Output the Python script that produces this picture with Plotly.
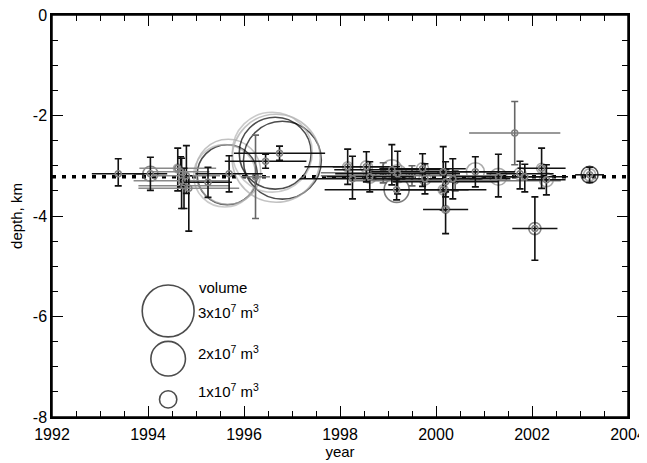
import plotly.graph_objects as go

# ---------------- data ----------------
mean_depth = -3.22

x_tickvals = [1992, 1994, 1996, 1998, 2000, 2002, 2004]
x_ticktext = ["1992", "1994", "1996", "1998", "2000", "2002", "2004"]
y_tickvals = [0, -2, -4, -6, -8]
y_ticktext = ["0", "-2", "-4", "-6", "-8"]

# events with black error bars
a_year = [1993.38, 1994.05, 1995.25, 1995.69, 1996.74, 1996.45, 1998.16, 1998.26, 1998.55, 1998.62,
          1999.08, 1999.20, 1999.18, 1999.72, 1999.77, 2000.15, 2000.20, 2000.15, 2000.20, 2000.35,
          2000.82, 2001.30, 2001.75, 2001.85, 2002.06, 2002.20, 2002.30, 2003.20]
a_depth = [-3.16, -3.16, -3.33, -3.16, -2.75, -2.91, -3.02, -3.26, -3.02, -3.22,
           -3.08, -3.16, -3.48, -3.06, -3.26, -3.12, -3.32, -3.48, -3.87, -3.26,
           -3.12, -3.22, -3.16, -3.22, -4.25, -3.05, -3.28, -3.18]
a_xerr = [0.55, 0.35, 0.5, 0.7, 0.95, 0.85, 0.9, 1.1, 0.7, 0.9,
          1.2, 1.3, 1.5, 0.9, 1.2, 1.5, 1.1, 0.9, 0.47, 1.2,
          0.8, 1.0, 0.7, 0.9, 0.47, 0.5, 0.4, 0.3]
a_up = [0.30, 0.33, 0.30, 0.36, 0.14, 0.14, 0.35, 0.45, 0.30, 0.30,
        0.50, 0.45, 0.20, 0.30, 0.30, 0.50, 0.40, 0.30, 0.35, 0.40,
        0.30, 0.45, 0.25, 0.25, 0.63, 0.40, 0.30, 0.15]
a_dn = [0.24, 0.33, 0.30, 0.36, 0.14, 0.14, 0.35, 0.40, 0.30, 0.30,
        0.30, 0.40, 0.20, 0.35, 0.30, 0.40, 0.30, 0.40, 0.48, 0.40,
        0.30, 0.40, 0.30, 0.30, 0.63, 0.40, 0.30, 0.15]

# events with grey horizontal and black vertical error bars
b_year = [1994.62, 1994.70, 1994.75, 1994.80, 1994.85, 1994.68]
b_depth = [-3.05, -3.30, -3.40, -3.20, -3.45, -3.12]
b_xerr = [0.8, 1.0, 0.95, 0.7, 1.05, 0.6]
b_up = [0.40, 0.45, 0.35, 0.60, 0.25, 0.30]
b_dn = [0.45, 0.55, 0.45, 0.35, 0.85, 0.30]

# events with grey error bars
c_year = [1996.24, 2001.64, 1999.50, 2000.40, 1998.90]
c_depth = [-3.22, -2.35, -3.20, -3.30, -3.14]
c_xerr = [0.3, 0.95, 1.9, 2.2, 1.3]
c_up = [0.83, 0.63, 0.20, 0.20, 0.20]
c_dn = [0.83, 0.63, 0.20, 0.20, 0.20]

# volume circles (volume in 1e7 m^3)
circ_year = [1995.65, 1995.67, 1995.60, 1996.65, 1996.80, 1996.67, 1996.59, 1994.05, 1999.18, 1999.08,
             1999.20, 2000.82, 2001.30, 2003.20, 2003.20, 2002.06, 2002.30, 1998.62, 1998.16, 1998.55,
             1999.72, 1999.77, 2000.15, 2001.75, 2002.20, 2000.20, 1994.62, 1994.78]
circ_depth = [-3.18, -3.12, -3.20, -2.75, -2.89, -2.85, -2.73, -3.16, -3.48, -3.08,
              -3.16, -3.12, -3.22, -3.18, -3.18, -4.25, -3.28, -3.22, -3.02, -3.02,
              -3.06, -3.26, -3.48, -3.16, -3.05, -3.87, -3.05, -3.30]
circ_vol = [3.47, 3.76, 3.60, 4.16, 4.50, 5.09, 4.62, 0.87, 1.45, 1.16,
            1.04, 1.04, 0.98, 0.98, 0.70, 0.70, 0.80, 0.75, 0.58, 0.70,
            0.70, 0.70, 0.58, 0.70, 0.58, 0.46, 0.50, 0.50]
circ_color = ["#000000", "#a8a8a8", "#b4b4b4", "#000000", "#000000", "#a8a8a8", "#b4b4b4", "#555555", "#444444", "#888888",
              "#888888", "#888888", "#888888", "#000000", "#888888", "#555555", "#888888", "#888888", "#888888", "#888888",
              "#888888", "#888888", "#888888", "#888888", "#888888", "#777777", "#888888", "#888888"]

legend_vol = [3, 2, 1]
legend_labels = ["3x10<sup>7</sup> m<sup>3</sup>", "2x10<sup>7</sup> m<sup>3</sup>", "1x10<sup>7</sup> m<sup>3</sup>"]

PX_PER_VOL = 17.3  # marker diameter (px) per 1e7 m^3
FONT = "Liberation Sans, Arial, sans-serif"

fig = go.Figure()

# mean depth dotted line
fig.add_trace(go.Scatter(x=[1992, 2004], y=[mean_depth, mean_depth], mode="lines",
                         line=dict(color="black", width=3.5, dash="4px,6px"), hoverinfo="skip"))

# volume circles
fig.add_trace(go.Scatter(x=circ_year, y=circ_depth, mode="markers",
                         marker=dict(symbol="circle-open", size=[v * PX_PER_VOL for v in circ_vol],
                                     color=circ_color, line=dict(width=1.6))))

def add_err(xs, ys, xe, up, dn, cx, cy):
    fig.add_trace(go.Scatter(
        x=xs, y=ys, mode="markers",
        marker=dict(symbol="circle-open", size=6, color="#808080", line=dict(width=1.5)),
        error_x=dict(type="data", array=xe, symmetric=True, color=cx, thickness=1.5, width=0),
        error_y=dict(type="data", array=up, arrayminus=dn, symmetric=False, color=cy, thickness=1.6, width=3.5),
    ))

add_err(c_year, c_depth, c_xerr, c_up, c_dn, "#777777", "#666666")
add_err(b_year, b_depth, b_xerr, b_up, b_dn, "#8a8a8a", "#111111")
add_err(a_year, a_depth, a_xerr, a_up, a_dn, "#111111", "#111111")

# volume legend
leg_x = 1994.42
leg_y = [-5.89, -6.84, -7.65]
fig.add_trace(go.Scatter(x=[leg_x] * 3, y=leg_y, mode="markers",
                         marker=dict(symbol="circle-open", size=[v * PX_PER_VOL for v in legend_vol],
                                     color="black", line=dict(width=1.6))))
txt_font = dict(family=FONT, size=15, color="black")
fig.add_annotation(x=1995.03, y=-5.43, text="volume", showarrow=False, xanchor="left", font=txt_font)
for lab, yy in zip(legend_labels, [-5.91, -6.72, -7.47]):
    fig.add_annotation(x=1995.0, y=yy, text=lab, showarrow=False, xanchor="left", font=txt_font)

# frame around the plot area
fig.add_shape(type="rect", xref="paper", yref="paper", x0=0, y0=0, x1=1, y1=1,
              line=dict(color="black", width=1.5), layer="above")

axis_common = dict(showgrid=False, zeroline=False, showline=True, linecolor="black", linewidth=1.5,
                   mirror="ticks", ticks="inside", ticklen=11, tickwidth=1.3, tickcolor="black",
                   automargin=False, tickmode="array", ticklabeloverflow="allow",
                   tickfont=dict(family=FONT, size=16, color="black"))

# page body has a default 8px margin, so the figure is sized/margined to compensate
fig.update_layout(
    width=639, height=455,
    margin=dict(l=44, r=19, t=7, b=46),
    plot_bgcolor="white", paper_bgcolor="white",
    showlegend=False,
    xaxis=dict(range=[1992, 2004], tickvals=x_tickvals, ticktext=x_ticktext, ticklabelstandoff=2,
               minor=dict(dtick=0.5, tick0=1992, ticks="inside", ticklen=6, tickcolor="black", tickwidth=1.2),
               title=dict(text="year", standoff=3, font=dict(family=FONT, size=15, color="black")),
               **axis_common),
    yaxis=dict(range=[-8, 0], tickvals=y_tickvals, ticktext=y_ticktext,
               minor=dict(dtick=0.5, tick0=0, ticks="inside", ticklen=6, tickcolor="black", tickwidth=1.2),
               title=dict(text="depth, km", standoff=8, font=dict(family=FONT, size=15, color="black")),
               **axis_common),
)

fig.write_html("out.html")
